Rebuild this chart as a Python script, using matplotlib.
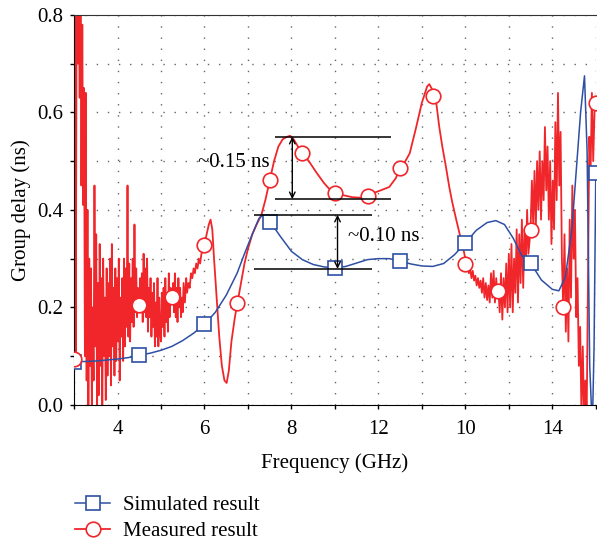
import matplotlib.pyplot as plt
from matplotlib.lines import Line2D

plt.rcParams['font.family'] = ['Liberation Serif', 'DejaVu Serif']

# simulated (blue) curve
sim_x = [3.00, 3.25, 3.50, 3.75, 4.00, 4.25, 4.50, 4.75, 5.00, 5.25, 5.50, 5.75,
         6.00, 6.25, 6.50, 6.75, 6.92, 7.10, 7.25, 7.35, 7.50, 7.75, 8.00, 8.25,
         8.50, 8.75, 9.00, 9.25, 9.50, 9.75, 10.00, 10.25, 10.50, 10.75, 11.00,
         11.25, 11.50, 11.75, 12.00, 12.25, 12.50, 12.70, 12.90, 13.10, 13.30,
         13.50, 13.75, 14.00, 14.15, 14.30, 14.45, 14.55, 14.65, 14.74, 14.80,
         14.86, 14.92, 14.96, 15.00]
sim_y = [0.088, 0.089, 0.090, 0.092, 0.094, 0.097, 0.102, 0.106, 0.112, 0.120,
         0.132, 0.147, 0.165, 0.190, 0.225, 0.270, 0.310, 0.350, 0.382, 0.390,
         0.377, 0.345, 0.315, 0.298, 0.288, 0.283, 0.281, 0.284, 0.291, 0.298,
         0.300, 0.300, 0.295, 0.289, 0.285, 0.284, 0.290, 0.308, 0.332, 0.358,
         0.374, 0.378, 0.370, 0.342, 0.306, 0.291, 0.256, 0.237, 0.234, 0.262,
         0.360, 0.480, 0.600, 0.675, 0.520, 0.080, -0.050, 0.120, 0.476]
sim_mark_x = [3.0, 4.5, 6.0, 7.5, 9.0, 10.5, 12.0, 13.5, 15.0]
sim_mark_y = [0.087, 0.102, 0.165, 0.375, 0.281, 0.295, 0.332, 0.291, 0.476]

# measured (red) curve
meas_x = [3.00, 3.02, 3.04, 3.06, 3.09, 3.11, 3.13, 3.15, 3.17, 3.19, 3.21, 3.23,
          3.25, 3.27, 3.29, 3.31, 3.33, 3.35, 3.37, 3.39, 3.41, 3.43, 3.45, 3.47,
          3.49, 3.51, 3.53, 3.55, 3.57, 3.59, 3.61, 3.63, 3.65, 3.67, 3.69, 3.71,
          3.73, 3.75, 3.77, 3.79, 3.81, 3.83, 3.85, 3.87, 3.89, 3.91, 3.93, 3.95,
          3.97, 3.99, 4.01, 4.03, 4.05, 4.07, 4.09, 4.11, 4.13, 4.15, 4.17, 4.19,
          4.21, 4.23, 4.25, 4.27, 4.29, 4.31, 4.33, 4.35, 4.37, 4.39, 4.41, 4.43,
          4.45, 4.47, 4.50, 4.52, 4.54, 4.56, 4.58, 4.60, 4.62, 4.64, 4.66, 4.68,
          4.70, 4.72, 4.74, 4.76, 4.78, 4.80, 4.82, 4.84, 4.86, 4.88, 4.90, 4.92,
          4.94, 4.96, 4.98, 5.00, 5.02, 5.04, 5.06, 5.08, 5.10, 5.12, 5.14, 5.16,
          5.18, 5.20, 5.22, 5.25, 5.28, 5.30, 5.32, 5.34, 5.36, 5.38, 5.40, 5.42,
          5.44, 5.46, 5.48, 5.50, 5.52, 5.55, 5.58, 5.60, 5.63, 5.66, 5.69, 5.72,
          5.75, 5.78, 5.81, 5.84, 5.87, 5.90, 5.93, 5.97,
          6.00, 6.05, 6.10, 6.14, 6.18, 6.22, 6.28, 6.34, 6.40, 6.46, 6.51, 6.56,
          6.62, 6.70, 6.76, 6.84, 6.92, 7.00, 7.10, 7.20, 7.31, 7.40, 7.50, 7.60,
          7.70, 7.80, 7.90, 7.97, 8.05, 8.15, 8.26, 8.40, 8.58, 8.75, 8.90, 9.03,
          9.20, 9.40, 9.60, 9.76, 9.90, 10.05, 10.25, 10.40, 10.50, 10.62, 10.72,
          10.87, 11.00, 11.12, 11.17, 11.22, 11.27, 11.33, 11.40, 11.47, 11.55,
          11.63, 11.70, 11.79, 11.87, 11.93, 12.00,
          12.04, 12.08, 12.11, 12.14, 12.17, 12.20, 12.23, 12.26, 12.29, 12.32,
          12.35, 12.38, 12.41, 12.44, 12.47, 12.50, 12.53, 12.56, 12.59, 12.62,
          12.65, 12.68, 12.71, 12.74, 12.76, 12.79, 12.82, 12.85, 12.88, 12.91,
          12.94, 12.97, 13.00, 13.03, 13.06, 13.09, 13.12, 13.15, 13.18, 13.21,
          13.24, 13.27, 13.30, 13.33, 13.36, 13.39, 13.42, 13.45, 13.50, 13.53,
          13.56, 13.59, 13.62, 13.65, 13.68, 13.71, 13.74, 13.77, 13.80, 13.83,
          13.86, 13.89, 13.92, 13.95, 13.98, 14.01, 14.04, 14.07, 14.10, 14.13,
          14.16, 14.19, 14.22, 14.25, 14.28, 14.31, 14.34, 14.37, 14.40, 14.43,
          14.46, 14.49, 14.52, 14.55, 14.58, 14.61, 14.64, 14.67, 14.70, 14.73,
          14.76, 14.79, 14.82, 14.85, 14.88, 14.91, 14.94, 14.97, 15.00]
meas_y = [0.095, 0.82, 0.10, 0.85, 0.70, 0.82, 0.63, 0.83, 0.45, 0.78, 0.41, 0.65,
          0.10, 0.64, 0.05, 0.40, -0.02, 0.30, 0.08, 0.28, -0.02, 0.20, 0.05, 0.45,
          0.12, 0.35, -0.02, 0.25, 0.02, 0.33, 0.08, 0.26, -0.02, 0.30, 0.10, 0.22,
          0.01, 0.28, 0.06, 0.25, 0.10, 0.30, 0.04, 0.33, 0.12, 0.24, 0.06, 0.28,
          0.09, 0.26, 0.13, 0.30, 0.05, 0.22, 0.14, 0.26, 0.09, 0.30, 0.12, 0.28,
          0.16, 0.45, 0.14, 0.29, 0.13, 0.26, 0.17, 0.30, 0.16, 0.37, 0.19, 0.28,
          0.18, 0.24, 0.205, 0.26, 0.19, 0.27, 0.17, 0.31, 0.19, 0.28, 0.18, 0.30,
          0.15, 0.24, 0.18, 0.26, 0.14, 0.23, 0.16, 0.25, 0.12, 0.21, 0.14, 0.26,
          0.12, 0.22, 0.15, 0.13, 0.23, 0.16, 0.24, 0.14, 0.26, 0.17, 0.22, 0.15,
          0.27, 0.18, 0.24, 0.22, 0.25, 0.19, 0.27, 0.18, 0.24, 0.17, 0.26, 0.20,
          0.24, 0.18, 0.22, 0.19, 0.25, 0.21, 0.26, 0.23, 0.25, 0.24, 0.27, 0.26,
          0.28, 0.27, 0.29, 0.28, 0.30, 0.29, 0.31, 0.32,
          0.33, 0.35, 0.37, 0.38, 0.36, 0.30, 0.22, 0.14, 0.08, 0.05, 0.045, 0.07,
          0.13, 0.18, 0.21, 0.25, 0.29, 0.32, 0.35, 0.37, 0.39, 0.42, 0.46, 0.50,
          0.53, 0.545, 0.55, 0.552, 0.545, 0.53, 0.516, 0.50, 0.476, 0.455, 0.44, 0.434,
          0.43, 0.426, 0.425, 0.427, 0.435, 0.44, 0.447, 0.465, 0.486, 0.50, 0.516,
          0.57, 0.62, 0.653, 0.658, 0.65, 0.635, 0.62, 0.57, 0.53, 0.49,
          0.447, 0.415, 0.38, 0.35, 0.33, 0.30,
          0.29, 0.27, 0.28, 0.26, 0.275, 0.255, 0.265, 0.245, 0.26, 0.24,
          0.255, 0.23, 0.26, 0.22, 0.25, 0.215, 0.245, 0.21, 0.27, 0.22,
          0.275, 0.21, 0.26, 0.22, 0.235, 0.19, 0.27, 0.175, 0.26, 0.20,
          0.29, 0.19, 0.31, 0.20, 0.33, 0.19, 0.30, 0.23, 0.36, 0.21,
          0.35, 0.25, 0.38, 0.24, 0.36, 0.28, 0.40, 0.31, 0.36, 0.46,
          0.37, 0.48, 0.36, 0.50, 0.40, 0.52, 0.38, 0.50, 0.42, 0.57,
          0.44, 0.53, 0.38, 0.50, 0.33, 0.46, 0.36, 0.58, 0.42, 0.64,
          0.45, 0.56, 0.30, 0.20, 0.35, 0.15, 0.28, 0.13, 0.38, 0.22,
          0.45, 0.30, 0.40, 0.18, 0.26, 0.08, 0.16, -0.02, 0.12, -0.02,
          0.05, -0.02, 0.25, 0.55, 0.48, 0.64, 0.50, 0.60, 0.62]
meas_mark_x = [3.0, 4.5, 5.25, 6.0, 6.75, 7.5, 8.25, 9.0, 9.75, 10.5, 11.25,
               12.0, 12.75, 13.5, 14.25, 15.0]
meas_mark_y = [0.095, 0.205, 0.222, 0.328, 0.21, 0.462, 0.516, 0.435, 0.428,
               0.485, 0.633, 0.288, 0.234, 0.358, 0.20, 0.62]

xtick_pos = [4, 6, 8, 10, 12, 14]
xtick_labels = ['4', '6', '8', '12', '10', '14']

blue = '#2e4fa3'
red = '#f0262a'
fs = 15

fig = plt.figure(figsize=(5.97, 5.42), dpi=100)
ax = fig.add_axes([0.124, 0.253, 0.874, 0.7195])

ax.plot(sim_x, sim_y, color=blue, lw=1.1, zorder=3)
ax.plot(meas_x, meas_y, color=red, lw=1.3, zorder=2)
ax.plot(sim_mark_x, sim_mark_y, ls='none', marker='s', ms=9.5, mfc='white',
        mec=blue, mew=1.2, zorder=4)
ax.plot(meas_mark_x, meas_mark_y, ls='none', marker='o', ms=10.5, mfc='white',
        mec=red, mew=1.2, zorder=4)

# annotations
ax.hlines([0.55, 0.422], 7.62, 10.3, colors='black', lw=1.1, zorder=5)
ax.hlines([0.39, 0.279], 7.15, 9.86, colors='black', lw=1.1, zorder=5)
ax.annotate('', xy=(8.02, 0.55), xytext=(8.02, 0.422),
            arrowprops=dict(arrowstyle='<->', color='black', lw=1.0,
                            shrinkA=0, shrinkB=0), zorder=6)
ax.annotate('', xy=(9.06, 0.39), xytext=(9.06, 0.279),
            arrowprops=dict(arrowstyle='<->', color='black', lw=1.0,
                            shrinkA=0, shrinkB=0), zorder=6)
ax.text(7.5, 0.498, '~0.15 ns', ha='right', va='center', fontsize=fs)
ax.text(9.3, 0.345, '~0.10 ns', ha='left', va='center', fontsize=fs)

ax.set_xlim(3, 15)
ax.set_ylim(0, 0.8)
ax.set_xticks(xtick_pos)
ax.set_xticklabels(xtick_labels)
ax.set_xticks([3, 5, 7, 9, 11, 13, 15], minor=True)
ax.set_yticks([0.0, 0.2, 0.4, 0.6, 0.8])
ax.set_yticklabels(['0.0', '0.2', '0.4', '0.6', '0.8'])
ax.set_yticks([0.1, 0.3, 0.5, 0.7], minor=True)
ax.tick_params(axis='both', which='both', direction='out', length=3, width=1,
               labelsize=fs)
ax.tick_params(axis='x', which='major', pad=8)
ax.tick_params(axis='y', which='major', pad=5)
ax.grid(True, which='both', color='#666666', ls=(0, (1, 7)), lw=1.0)
ax.spines['right'].set_visible(False)
ax.spines['top'].set_color('#333333')

ax.set_xlabel('Frequency (GHz)', fontsize=fs, labelpad=10)
ax.set_ylabel('Group delay (ns)', fontsize=fs, labelpad=4)

handles = [Line2D([], [], color=blue, lw=1.1, marker='s', ms=9.5, mfc='white',
                  mec=blue, mew=1.2),
           Line2D([], [], color=red, lw=1.3, marker='o', ms=10.5, mfc='white',
                  mec=red, mew=1.2)]
fig.legend(handles, ['Simulated result', 'Measured result'], loc='upper left',
           bbox_to_anchor=(0.1256, 0.086), frameon=False, fontsize=fs,
           handlelength=1.7, labelspacing=0.3, handletextpad=0.6,
           borderaxespad=0, borderpad=0)

fig.savefig('out.png', dpi=100)
